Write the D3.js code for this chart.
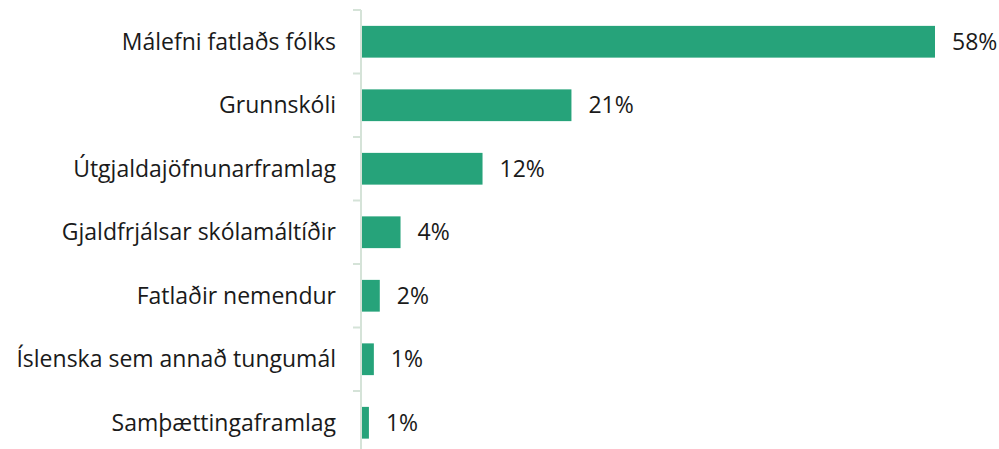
<!DOCTYPE html>
<html lang="is">
  <head>
    <meta charset="UTF-8" />
    <title>Framlög</title>
    <script src="https://d3js.org/d3.v7.min.js"></script>
    <style>
      body { margin: 0; background: #fff; }
      .label, .value { font-family: "Open Sans", sans-serif; font-size: 23px; fill: #1a1a1a; }
      .axis path, .axis line { stroke: #d5e3d8; stroke-width: 2; }
    </style>
  </head>
  <body>
    <div id="chart"></div>
    <script>
      // Flokkar og hlutföll (%)
      const categories = [
        "Málefni fatlaðs fólks",
        "Grunnskóli",
        "Útgjaldajöfnunarframlag",
        "Gjaldfrjálsar skólamáltíðir",
        "Fatlaðir nemendur",
        "Íslenska sem annað tungumál",
        "Samþættingaframlag"
      ];
      const values = [58, 21.2, 12.2, 3.9, 1.8, 1.2, 0.7];
      const valueLabels = ["58%", "21%", "12%", "4%", "2%", "1%", "1%"];

      const width = 999, height = 449;
      const margin = { top: 10, left: 362, right: 0 };
      const step = 63.5;

      const svg = d3.select("#chart").append("svg")
        .attr("width", width).attr("height", height);

      const y = d3.scaleBand()
        .domain(categories)
        .range([margin.top, margin.top + step * categories.length])
        .paddingInner(0.5).paddingOuter(0.25);

      const x = d3.scaleLinear().domain([0, 58]).range([margin.left, 935]);

      // ás með hakum milli flokka
      const axisG = svg.append("g").attr("class", "axis");
      axisG.append("line")
        .attr("x1", margin.left - 1).attr("x2", margin.left - 1)
        .attr("y1", margin.top).attr("y2", margin.top + step * categories.length);
      axisG.selectAll(".tick")
        .data(d3.range(categories.length + 1))
        .join("line")
        .attr("x1", margin.left - 9).attr("x2", margin.left - 1)
        .attr("y1", (i) => margin.top + i * step)
        .attr("y2", (i) => margin.top + i * step);

      svg.selectAll(".bar")
        .data(values)
        .join("rect")
        .attr("class", "bar")
        .attr("fill", "#26a37a")
        .attr("x", x(0))
        .attr("y", (d, i) => y(categories[i]))
        .attr("width", (d) => x(d) - x(0))
        .attr("height", y.bandwidth());

      svg.selectAll(".label")
        .data(categories)
        .join("text")
        .attr("class", "label")
        .attr("x", margin.left - 26)
        .attr("y", (d) => y(d) + y.bandwidth() / 2)
        .attr("dy", "0.35em")
        .attr("text-anchor", "end")
        .text((d) => d);

      svg.selectAll(".value")
        .data(values)
        .join("text")
        .attr("class", "value")
        .attr("x", (d) => x(d) + 17)
        .attr("y", (d, i) => y(categories[i]) + y.bandwidth() / 2)
        .attr("dy", "0.35em")
        .text((d, i) => valueLabels[i]);
    </script>
  </body>
</html>
